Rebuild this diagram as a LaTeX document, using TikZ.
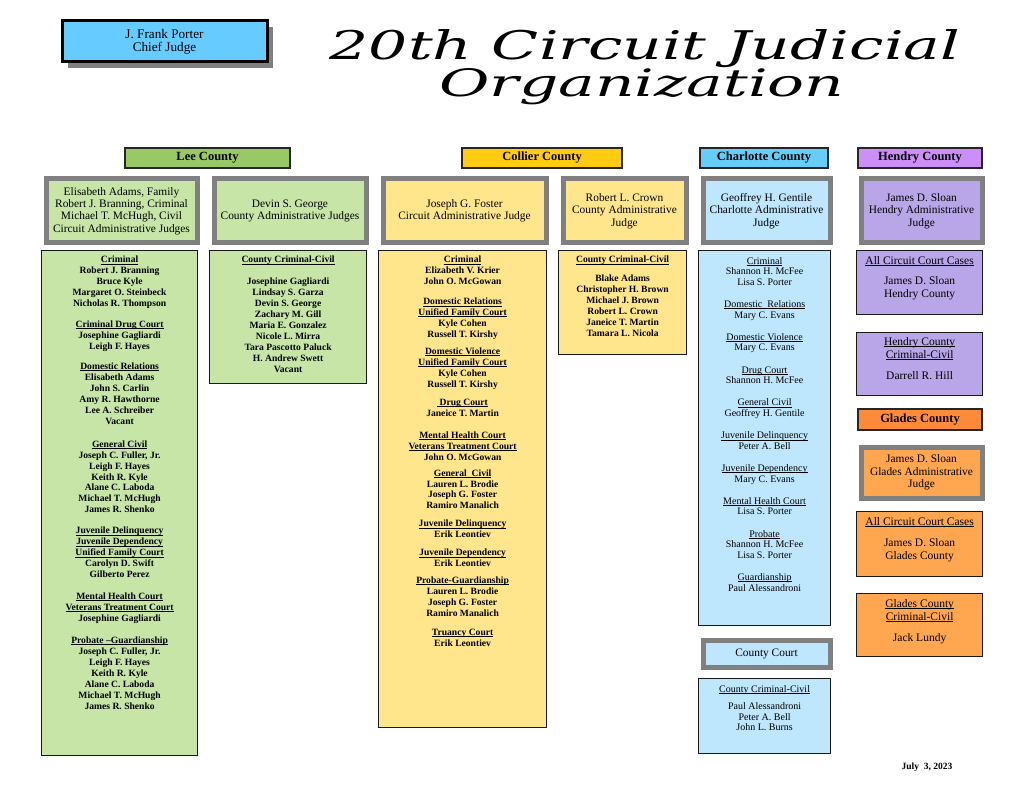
\documentclass[tikz,border=0pt]{standalone}
\usepackage{fontspec}
\setmainfont{Liberation Serif}
\newfontfamily\titlefnt{DejaVu Serif}
\usetikzlibrary{positioning,shadows}

\definecolor{chiefblue}{HTML}{66CCFF}
\definecolor{leehead}{HTML}{99C966}
\definecolor{leelight}{HTML}{C6E5A6}
\definecolor{collhead}{HTML}{FFCC11}
\definecolor{colllight}{HTML}{FFE68C}
\definecolor{charhead}{HTML}{66CCF8}
\definecolor{charlight}{HTML}{BEE6FC}
\definecolor{hendhead}{HTML}{CC8EF7}
\definecolor{hendlight}{HTML}{B8A6E8}
\definecolor{gladhead}{HTML}{FF8A3A}
\definecolor{gladlight}{HTML}{FFA650}
\definecolor{admgray}{HTML}{808080}

% underline at a fixed depth, as a word processor does
\newcommand{\undl}[1]{\leavevmode\setbox0\hbox{#1}\rlap{\rule[-1.3pt]{\wd0}{0.5pt}}\box0}

\begin{document}
\begin{tikzpicture}[x=1pt,y=-1pt,
  head/.style={draw=black!85, line width=2pt, anchor=north west, inner sep=0pt,
    font=\fontsize{12.5}{14}\selectfont\bfseries},
  admin/.style={draw=admgray, line width=5pt, anchor=north west, inner sep=0pt,
    align=center, font=\fontsize{11.4}{12.4}\selectfont},
  list/.style={draw=black!90, line width=1.2pt, anchor=north west, inner sep=0pt},
  listtxt/.style={align=center, inner sep=0pt, font=\fontsize{9.6}{10.95}\selectfont\bfseries},
  plaintxt/.style={align=center, inner sep=0pt, font=\fontsize{10}{10.6}\selectfont},
  bigtxt/.style={align=center, inner sep=0pt, font=\fontsize{11.5}{13}\selectfont}]
  \useasboundingbox (0,0) rectangle (1024,791);
  \fill[white] (0,0) rectangle (1024,791);

  % chief judge and title
  \node[draw=black, line width=3pt, fill=chiefblue, anchor=north west, inner sep=0pt,
    minimum width=205pt, minimum height=41pt, align=center,
    font=\fontsize{13.2}{13}\selectfont,
    drop shadow={shadow xshift=6pt, shadow yshift=-6pt, fill=admgray, opacity=1}]
    (chief) at (60.5,19.5) {J. Frank Porter\\Chief Judge};
  \node[anchor=base, inner sep=0pt] (titleA) at (645,60)
    {\resizebox{630pt}{30pt}{\titlefnt\itshape 20th Circuit Judicial}};
  \node[anchor=base, inner sep=0pt] (titleB) at (642,97)
    {\resizebox{405pt}{28pt}{\titlefnt\itshape Organization}};

  % county headers
  \node[head, fill=leehead, minimum width=165pt, minimum height=20pt] (leeHead) at (124,147) {Lee County};
  \node[head, fill=collhead, minimum width=160pt, minimum height=20pt] (collHead) at (461,147) {Collier County};
  \node[head, fill=charhead, minimum width=128pt, minimum height=20pt] (charHead) at (699,147) {Charlotte County};
  \node[head, fill=hendhead, minimum width=124pt, minimum height=20pt] (hendHead) at (857,147) {Hendry County};
  \node[head, fill=gladhead, minimum width=124pt, minimum height=21pt] (gladHead) at (857,408) {Glades County};

  % administrative judges
  \node[admin, fill=leelight, minimum width=151pt, minimum height=64pt] (leeCircAdmin) at (43.5,176.5)
    {Elisabeth Adams, Family\\Robert J. Branning, Criminal\\Michael T. McHugh, Civil\\Circuit Administrative Judges};
  \node[admin, fill=leelight, minimum width=152pt, minimum height=64pt] (leeCntyAdmin) at (211.5,176.5)
    {Devin S. George\\County Administrative Judges};
  \node[admin, fill=colllight, minimum width=163pt, minimum height=64pt] (collCircAdmin) at (380.5,176.5)
    {Joseph G. Foster\\Circuit Administrative Judge};
  \node[admin, fill=colllight, minimum width=123pt, minimum height=64pt] (collCntyAdmin) at (560.5,176.5)
    {Robert L. Crown\\County Administrative\\Judge};
  \node[admin, fill=charlight, minimum width=127pt, minimum height=64pt] (charAdmin) at (700.5,176.5)
    {Geoffrey H. Gentile\\Charlotte Administrative\\Judge};
  \node[admin, fill=hendlight, minimum width=121pt, minimum height=64pt] (hendAdmin) at (858.5,176.5)
    {James D. Sloan\\Hendry Administrative\\Judge};
  \node[admin, fill=gladlight, minimum width=121pt, minimum height=51pt] (gladAdmin) at (858.5,444.5)
    {James D. Sloan\\Glades Administrative\\Judge};
  \node[admin, fill=charlight, minimum width=127pt, minimum height=27pt] (charCourt) at (700.5,637.5)
    {County Court};

  % division lists
  \node[list, fill=leelight, minimum width=156pt, minimum height=505pt] (leeList) at (41,250) {};
  \node[list, fill=leelight, minimum width=157pt, minimum height=133pt] (leeCntyList) at (209,250) {};
  \node[list, fill=colllight, minimum width=168pt, minimum height=477pt] (collList) at (378,250) {};
  \node[list, fill=colllight, minimum width=128pt, minimum height=104pt] (collCntyList) at (558,250) {};
  \node[list, fill=charlight, minimum width=132pt, minimum height=375pt] (charList) at (698,250) {};
  \node[list, fill=charlight, minimum width=132pt, minimum height=75pt] (charCntyList) at (698,678) {};
  \node[list, fill=hendlight, minimum width=126pt, minimum height=64pt] (hendAll) at (856,250) {};
  \node[list, fill=hendlight, minimum width=126pt, minimum height=63pt] (hendCnty) at (856,332) {};
  \node[list, fill=gladlight, minimum width=126pt, minimum height=65pt] (gladAll) at (856,511) {};
  \node[list, fill=gladlight, minimum width=126pt, minimum height=63pt] (gladCnty) at (856,593) {};

  \node[listtxt, below=6pt of leeList.north] (leeListTxt) {%
    \undl{Criminal}\\Robert J. Branning\\Bruce Kyle\\Margaret O. Steinbeck\\Nicholas R. Thompson\\[10pt]
    \undl{Criminal Drug Court}\\Josephine Gagliardi\\Leigh F. Hayes\\[9pt]
    \undl{Domestic Relations}\\Elisabeth Adams\\John S. Carlin\\Amy R. Hawthorne\\Lee A. Schreiber\\Vacant\\[12pt]
    \undl{General Civil}\\Joseph C. Fuller, Jr.\\Leigh F. Hayes\\Keith R. Kyle\\Alane C. Laboda\\Michael T. McHugh\\James R. Shenko\\[10pt]
    \undl{Juvenile Delinquency}\\\undl{Juvenile Dependency}\\\undl{Unified Family Court}\\Carolyn D. Swift\\Gilberto Perez\\[11pt]
    \undl{Mental Health Court}\\\undl{Veterans Treatment Court}\\Josephine Gagliardi\\[11pt]
    \undl{Probate --Guardianship}\\Joseph C. Fuller, Jr.\\Leigh F. Hayes\\Keith R. Kyle\\Alane C. Laboda\\Michael T. McHugh\\James R. Shenko};
  \node[listtxt, below=6pt of leeCntyList.north] (leeCntyTxt) {%
    \undl{County Criminal-Civil}\\[11pt]
    Josephine Gagliardi\\Lindsay S. Garza\\Devin S. George\\Zachary M. Gill\\Maria E. Gonzalez\\Nicole L. Mirra\\Tara Pascotto Paluck\\H. Andrew Swett\\Vacant};
  \node[listtxt, below=6pt of collList.north] (collListTxt) {%
    \undl{Criminal}\\Elizabeth V. Krier\\John O. McGowan\\[9pt]
    \undl{Domestic Relations}\\\undl{Unified Family Court}\\Kyle Cohen\\Russell T. Kirshy\\[6pt]
    \undl{Domestic Violence}\\\undl{Unified Family Court}\\Kyle Cohen\\Russell T. Kirshy\\[7pt]
    \undl{\ Drug Court}\\Janeice T. Martin\\[11pt]
    \undl{Mental Health Court}\\\undl{Veterans Treatment Court}\\John O. McGowan\\[5pt]
    \undl{General\ \ Civil}\\Lauren L. Brodie\\Joseph G. Foster\\Ramiro Manalich\\[7pt]
    \undl{Juvenile Delinquency}\\Erik Leontiev\\[7pt]
    \undl{Juvenile Dependency}\\Erik Leontiev\\[6pt]
    \undl{Probate-Guardianship}\\Lauren L. Brodie\\Joseph G. Foster\\Ramiro Manalich\\[8pt]
    \undl{Truancy Court}\\Erik Leontiev};
  \node[listtxt, below=6pt of collCntyList.north] (collCntyTxt) {%
    \undl{County Criminal-Civil}\\[8pt]
    Blake Adams\\Christopher H. Brown\\Michael J. Brown\\Robert L. Crown\\Janeice T. Martin\\Tamara L. Nicola};
  \node[plaintxt, below=7pt of charList.north] (charListTxt) {%
    \undl{Criminal}\\Shannon H. McFee\\Lisa S. Porter\\[11.6pt]
    \undl{Domestic\ \ Relations}\\Mary C. Evans\\[11.6pt]
    \undl{Domestic Violence}\\Mary C. Evans\\[11.6pt]
    \undl{Drug Court}\\Shannon H. McFee\\[11.6pt]
    \undl{General Civil}\\Geoffrey H. Gentile\\[11.6pt]
    \undl{Juvenile Delinquency}\\Peter A. Bell\\[11.6pt]
    \undl{Juvenile Dependency}\\Mary C. Evans\\[11.6pt]
    \undl{Mental Health Court}\\Lisa S. Porter\\[11.6pt]
    \undl{Probate}\\Shannon H. McFee\\Lisa S. Porter\\[11.6pt]
    \undl{Guardianship}\\Paul Alessandroni};
  \node[plaintxt, below=7pt of charCntyList.north] (charCntyTxt) {%
    \undl{County Criminal-Civil}\\[7pt]
    Paul Alessandroni\\Peter A. Bell\\John L. Burns};
  \node[bigtxt, below=6pt of hendAll.north] (hendAllTxt) {%
    \undl{All Circuit Court Cases}\\[7pt]James D. Sloan\\Hendry County};
  \node[bigtxt, below=5.5pt of hendCnty.north] (hendCntyTxt) {%
    \undl{Hendry County}\\\undl{Criminal-Civil}\\[8pt]Darrell R. Hill};
  \node[bigtxt, below=6pt of gladAll.north] (gladAllTxt) {%
    \undl{All Circuit Court Cases}\\[8pt]James D. Sloan\\Glades County};
  \node[bigtxt, below=6pt of gladCnty.north] (gladCntyTxt) {%
    \undl{Glades County}\\\undl{Criminal-Civil}\\[8pt]Jack Lundy};

  % date
  \node[font=\fontsize{9.5}{11}\selectfont\bfseries, inner sep=0pt] (date) at (927,767) {July\ \ 3, 2023};
\end{tikzpicture}
\end{document}
